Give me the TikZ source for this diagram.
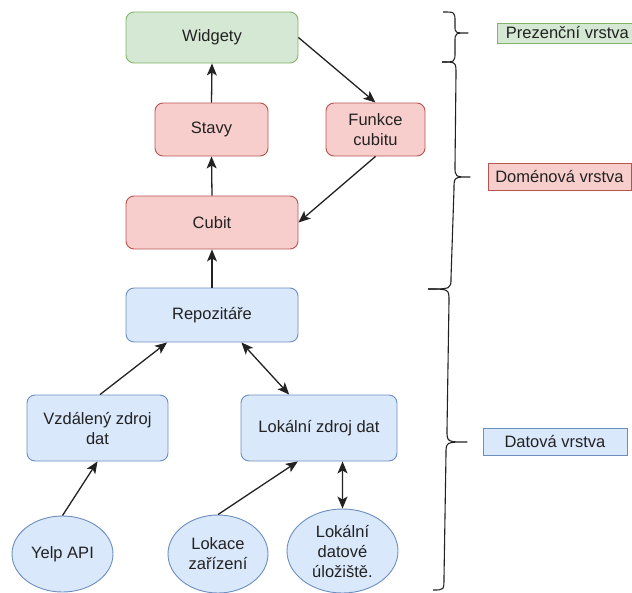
\documentclass[tikz,border=0pt]{standalone}
\usepackage{fontspec}
\setmainfont{Liberation Sans}
\usetikzlibrary{arrows.meta,calc,shapes.geometric}
\definecolor{gfill}{HTML}{D5E8D4}\definecolor{gline}{HTML}{82B366}
\definecolor{rfill}{HTML}{F8CECC}\definecolor{rline}{HTML}{B85450}
\definecolor{bfill}{HTML}{DAE8FC}\definecolor{bline}{HTML}{6C8EBF}
\definecolor{ink}{HTML}{222222}
\tikzset{
  every node/.style={font=\fontsize{16.5}{20}\selectfont, text=ink, inner sep=0pt, align=center},
  roundbox/.style={draw, rounded corners=8pt, line width=0.9pt},
  gbox/.style={roundbox, fill=gfill, draw=gline},
  rbox/.style={roundbox, fill=rfill, draw=rline},
  bbox/.style={roundbox, fill=bfill, draw=bline},
  bell/.style={ellipse, draw=bline, fill=bfill, line width=0.9pt},
  lbl/.style={draw, line width=0.8pt},
  tip/.style={Stealth[length=12pt,width=10pt,inset=3pt]},
  conn/.style={draw=ink, line width=1.3pt, -{Stealth[length=12pt,width=10pt,inset=3pt]}},
  biconn/.style={draw=ink, line width=1.3pt, {Stealth[length=12pt,width=10pt,inset=3pt]}-{Stealth[length=12pt,width=10pt,inset=3pt]}},
  bracepath/.style={draw=ink, line width=1.1pt, line join=round}
}
\begin{document}
\begin{tikzpicture}[x=1pt,y=-1pt]
\useasboundingbox (0,0) rectangle (632,592);
% nodes
\node[gbox, minimum width=172pt, minimum height=51pt] (wid) at (212,37.5) {Widgety};
\node[rbox, minimum width=113pt, minimum height=53pt] (sta) at (211.5,129.5) {Stavy};
\node[rbox, minimum width=99pt, minimum height=53pt] (fun) at (375.5,129.5) {Funkce\\cubitu};
\node[rbox, minimum width=172pt, minimum height=53pt] (cub) at (212,222.5) {Cubit};
\node[bbox, minimum width=172pt, minimum height=54pt] (rep) at (212,315) {Repozitáře};
\node[bbox, minimum width=141pt, minimum height=66pt] (vzd) at (97.5,428) {Vzdálený zdroj\\dat};
\node[bbox, minimum width=156pt, minimum height=66pt] (lok) at (319,428) {Lokální zdroj dat};
\node[bell, minimum width=101pt, minimum height=76pt] (yelp) at (62.5,554) {Yelp API};
\node[bell, minimum width=100pt, minimum height=78pt] (loc) at (218,554) {Lokace\\zařízení};
\node[bell, minimum width=111pt, minimum height=84pt] (ulo) at (342.5,551) {Lokální\\datové\\úložiště.};
% layer labels
\node[lbl, fill=gfill, draw=gline, minimum width=140pt, minimum height=20pt, anchor=west] (lp) at (497,33) {Prezenční vrstva};
\node[lbl, fill=rfill, draw=rline, minimum width=143pt, minimum height=27pt] (ld) at (559.5,176.5) {Doménová vrstva};
\node[lbl, fill=bfill, draw=bline, minimum width=144pt, minimum height=27pt] (lda) at (555,441.5) {Datová vrstva};
% connectors
\path[conn] (sta.north) -- (wid.south);
\path[conn] (wid.east) -- (fun.north);
\path[conn] (fun.south) -- (cub.east);
\path[conn] (cub.north) -- (sta.south);
\path[conn] (rep.north) -- (cub.south);
\path[conn] ($(vzd.north)+(2.5,0)$) -- ($(rep.south west)!0.24!(rep.south east)$);
\path[biconn] ($(rep.south west)!0.67!(rep.south east)$) -- ($(lok.north west)!0.31!(lok.north east)$);
\path[conn] (yelp.north) -- (vzd.south);
\path[conn] (loc.north) -- ($(lok.south west)!0.365!(lok.south east)$);
\path[biconn] (ulo.north) -- ($(lok.south west)!0.65!(lok.south east)$);
% braces
\path[bracepath] (443,12) .. controls (455,12) .. (455,22) -- (455,26)
  .. controls (455,33) .. (468,33) .. controls (455,33) .. (455,42) -- (455,52)
  .. controls (455,62) .. (442,62);
\path[bracepath] (442,62) .. controls (456,62) .. (456,74) -- (455,166)
  .. controls (455,177) .. (470,177) .. controls (454,177) .. (454,189) -- (451,278)
  .. controls (451,289) .. (428,289);
\path[bracepath] (428,289) .. controls (449,289) .. (449,301) -- (447,430)
  .. controls (447,442) .. (467,442) .. controls (446,442) .. (446,454) -- (444,578)
  .. controls (444,590) .. (433,590);
\end{tikzpicture}
\end{document}
